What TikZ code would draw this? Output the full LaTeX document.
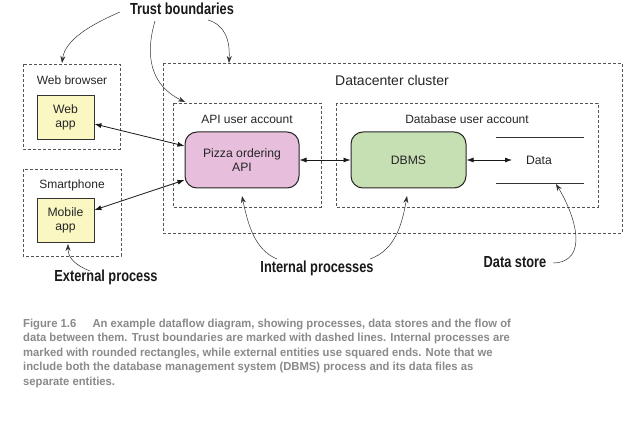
\documentclass[tikz,border=0pt]{standalone}
\usepackage{fontspec}
\setmainfont{Liberation Sans}
\newfontfamily\condfont[FakeStretch=0.8]{Liberation Sans}
\newfontfamily\capfont[FakeStretch=0.97]{Liberation Sans}
\usetikzlibrary{arrows.meta}
\definecolor{dash}{HTML}{555555}
\definecolor{yel}{HTML}{FBF7C3}
\definecolor{pink}{HTML}{E8BEDD}
\definecolor{grn}{HTML}{C6E0B4}
\definecolor{capgray}{HTML}{8A8A8A}
\definecolor{annot}{HTML}{333333}
\tikzset{
  boundary/.style={draw=dash, dashed, line width=0.7pt, dash pattern=on 3pt off 2pt},
  extent/.style={draw=black!80, fill=yel, line width=0.9pt, minimum width=57pt, minimum height=44pt, align=center, font=\fontsize{12.2}{14}\selectfont, text=black!85},
  process/.style={draw=black!85, line width=1pt, rounded corners=12pt, align=center, font=\fontsize{12.2}{14}\selectfont, text=black!85},
  blabel/.style={font=\fontsize{12}{13}\selectfont, text=black!85},
  callout/.style={font=\condfont\bfseries\fontsize{16}{18}\selectfont, text=black!90},
  flow/.style={{Latex[length=7pt,width=5pt]}-{Latex[length=7pt,width=5pt]}, line width=0.8pt, black!90},
  annarrow/.style={-{Stealth[length=7pt,width=5pt]}, line width=0.5pt, annot},
}
\begin{document}
\begin{tikzpicture}[x=1pt,y=-1pt]
\useasboundingbox (0,0) rectangle (629,422);
\fill[white] (0,0) rectangle (629,422);
% trust boundaries
\draw[boundary] (23,64) rectangle (120,149);
\draw[boundary] (23,169) rectangle (121,256);
\draw[boundary] (163,63) rectangle (622,233);
\draw[boundary] (173,103) rectangle (321,207);
\draw[boundary] (336,103) rectangle (598,207);
% boundary labels
\node[blabel] (lweb) at (72,80) {Web browser};
\node[blabel] (lsmart) at (72,185) {Smartphone};
\node[blabel, font=\fontsize{14}{16}\selectfont] (ldc) at (392,80) {Datacenter cluster};
\node[blabel] (lapi) at (247,119) {API user account};
\node[blabel] (ldb) at (467,119) {Database user account};
% elements
\node[extent] (webapp) at (65.5,117) {Web\\app};
\node[extent] (mobapp) at (65.5,220) {Mobile\\app};
\node[process, fill=pink, minimum width=114pt, minimum height=56pt] (pizza) at (242,160) {Pizza ordering\\API};
\node[process, fill=grn, minimum width=115pt, minimum height=56pt] (dbms) at (408.5,160) {DBMS};
\coordinate (ds1) at (496,137);
\coordinate (ds2) at (584,137);
\coordinate (ds3) at (496,183);
\coordinate (ds4) at (584,183);
\draw[line width=0.8pt, black!80] (ds1) -- (ds2);
\draw[line width=0.8pt, black!80] (ds3) -- (ds4);
\node[font=\fontsize{12.2}{14}\selectfont, text=black!85] (data) at (539,160) {Data};
\coordinate (dataw) at (512,160);
% flows
\draw[flow] (webapp.east |- 0,124) -- (pizza.west |- 0,146);
\draw[flow] (mobapp.east |- 0,210) -- (pizza.west |- 0,180);
\draw[flow] (pizza.east) -- (dbms.west);
\draw[flow] (dbms.east) -- (dataw);
% callouts
\node[callout] (tb) at (182,9) {Trust boundaries};
\node[callout] (ep) at (106,277) {External process};
\node[callout] (ip) at (317,268) {Internal processes};
\node[callout] (dst) at (515,262) {Data store};
\coordinate (tb1) at (120,12);
\coordinate (tb2) at (155,21);
\coordinate (tb3) at (208,20);
\coordinate (ep1) at (90,271);
\coordinate (ip1) at (277,259);
\coordinate (ip2) at (370,259);
\coordinate (ds0) at (553,263);
\draw[annarrow] (tb1) .. controls (90,25) and (65,40) .. (62,63);
\draw[annarrow] (tb2) .. controls (145,55) and (150,85) .. (185,102);
\draw[annarrow] (tb3) .. controls (225,25) and (230,40) .. (229,63);
\draw[annarrow] (ep1) .. controls (75,265) and (68,258) .. (68,244);
\draw[annarrow] (ip1) .. controls (255,250) and (248,225) .. (242,196);
\draw[annarrow] (ip2) .. controls (395,250) and (402,225) .. (407,196);
\draw[annarrow] (ds0) .. controls (590,262) and (575,215) .. (556,184);
% caption
\node[anchor=north west, align=left, inner sep=0pt, text=capgray, font=\capfont\bfseries\fontsize{11.6}{14.6}\selectfont] (cap) at (23,318.5) {Figure 1.6\hspace{1.4em}An example dataflow diagram, showing processes, data stores and the flow of\\
data between them. Trust boundaries are marked with dashed lines. Internal processes are\\
marked with rounded rectangles, while external entities use squared ends. Note that we\\
include both the database management system (DBMS) process and its data files as\\
separate entities.};
\end{tikzpicture}
\end{document}
